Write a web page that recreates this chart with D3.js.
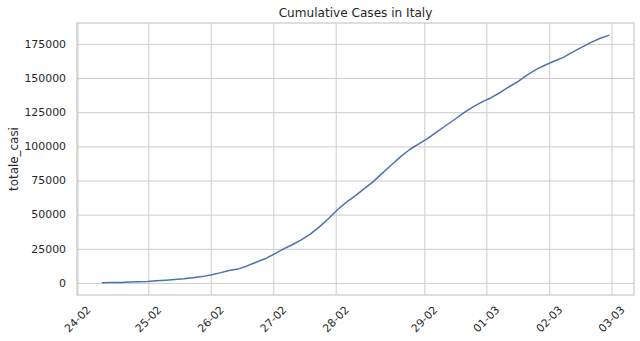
<!DOCTYPE html>
<html>
<head>
<meta charset="utf-8">
<script src="https://cdn.jsdelivr.net/npm/d3@7"></script>
<style>
  body { margin: 0; background: #fff; }
  svg { display: block; font-family: "DejaVu Sans", sans-serif; }
</style>
</head>
<body>
<svg width="640" height="341"></svg>
<script>
// cumulative cases, one value per day (day 0 = first point)
var totaleCasi = [
  229, 322, 400, 650, 888, 1128, 1694, 2036, 2502, 3089,
  3858, 4636, 5883, 7375, 9172, 10149, 12462, 15113, 17660, 21157,
  24747, 27980, 31506, 35713, 41035, 47021, 53578, 59138, 63927, 69176,
  74386, 80539, 86498, 92472, 97689, 101739, 105792, 110574, 115242, 119827,
  124632, 128948, 132547, 135586, 139422, 143626, 147577, 152271, 156363, 159516,
  162488, 165155, 168941, 172434, 175925, 178972, 181228
];

// x tick labels and where they sit (in day units)
var xTickLabels = ["24-02", "25-02", "26-02", "27-02", "28-02", "29-02", "01-03", "02-03", "03-03"];
var xTickDays = [-2.74, 5.09, 11.99, 18.91, 25.81, 35.61, 42.47, 49.43, 56.31];

var yTicks = [0, 25000, 50000, 75000, 100000, 125000, 150000, 175000];

var svg = d3.select("svg"),
    margin = {top: 23, right: 6, bottom: 46, left: 77},
    width = +svg.attr("width") - margin.left - margin.right,
    height = +svg.attr("height") - margin.top - margin.bottom,
    g = svg.append("g").attr("transform", "translate(" + margin.left + "," + margin.top + ")");

var data = totaleCasi.map((v, i) => ({day: i, value: v}));

// matplotlib style 5% margins on both axes
var xPad = (data.length - 1) * 0.05;
var x = d3.scaleLinear()
    .domain([-xPad, data.length - 1 + xPad])
    .range([0, width]);

var yMin = d3.min(totaleCasi), yMax = d3.max(totaleCasi);
var yPad = (yMax - yMin) * 0.05;
var y = d3.scaleLinear()
    .domain([yMin - yPad, yMax + yPad])
    .range([height, 0]);

var grey = "#cccccc", ink = "#262626";

// grid
g.append("g")
  .call(d3.axisBottom(x).tickValues(xTickDays).tickSize(height).tickFormat(""))
  .call(a => a.select(".domain").remove())
  .call(a => a.selectAll("line").attr("stroke", grey).attr("stroke-width", 1));

g.append("g")
  .call(d3.axisLeft(y).tickValues(yTicks).tickSize(-width).tickFormat(""))
  .call(a => a.select(".domain").remove())
  .call(a => a.selectAll("line").attr("stroke", grey).attr("stroke-width", 1));

// frame (all four spines)
g.append("rect")
  .attr("x", 0).attr("y", 0)
  .attr("width", width).attr("height", height)
  .attr("fill", "none")
  .attr("stroke", grey)
  .attr("stroke-width", 1.3);

// y tick labels
g.append("g").selectAll("text")
  .data(yTicks)
  .enter().append("text")
    .attr("x", -11)
    .attr("y", d => y(d))
    .attr("dy", "0.35em")
    .attr("text-anchor", "end")
    .attr("fill", ink)
    .style("font-size", "10.9px")
    .text(d => d);

// x tick labels, rotated 45 degrees, centred under the tick
g.append("g").selectAll("text")
  .data(xTickDays)
  .enter().append("text")
    .attr("transform", d => "translate(" + x(d) + "," + (height + 24) + ") rotate(-45)")
    .attr("dy", "0.35em")
    .attr("text-anchor", "middle")
    .attr("fill", ink)
    .style("font-size", "10.9px")
    .text((d, i) => xTickLabels[i]);

// the line
g.append("path")
  .datum(data)
  .attr("fill", "none")
  .attr("stroke", "#4c72b0")
  .attr("stroke-width", 1.5)
  .attr("stroke-linejoin", "round")
  .attr("stroke-linecap", "round")
  .attr("d", d3.line().x(d => x(d.day)).y(d => y(d.value)));

// title and axis label
svg.append("text")
  .attr("x", margin.left + width / 2)
  .attr("y", 17)
  .attr("text-anchor", "middle")
  .attr("fill", ink)
  .style("font-size", "12.1px")
  .text("Cumulative Cases in Italy");

svg.append("text")
  .attr("transform", "translate(14," + (margin.top + height / 2) + ") rotate(-90)")
  .attr("dy", "0.35em")
  .attr("text-anchor", "middle")
  .attr("fill", ink)
  .style("font-size", "11.9px")
  .text("totale_casi");
</script>
</body>
</html>
